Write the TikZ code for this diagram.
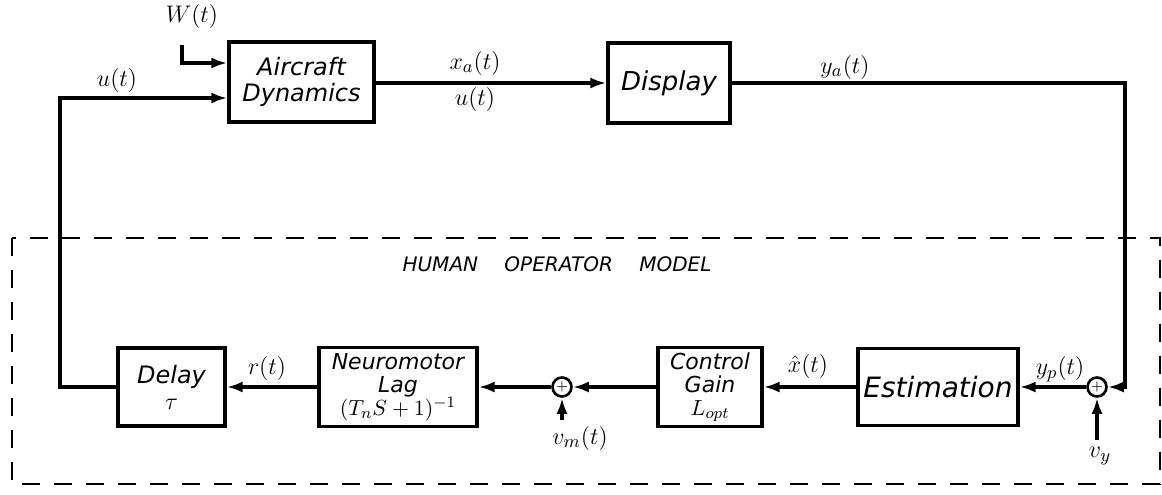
\documentclass[tikz,border=0pt]{standalone}
\usepackage{fontspec}
\setsansfont{DejaVu Sans}
\usetikzlibrary{arrows.meta}
\begin{document}
\begin{tikzpicture}[x=0.5pt,y=-0.5pt,
  line width=1.6pt,
  blk/.style={draw,line width=1.6pt,rectangle,align=center,inner sep=1pt,font=\sffamily\itshape\fontsize{12}{13}\selectfont},
  sumj/.style={draw,line width=1.3pt,circle,minimum size=9.5pt,inner sep=0pt},
  arr/.style={-{Latex[length=8pt,width=5.5pt]}},
  lbl/.style={font=\fontsize{13}{14}\selectfont}]
\useasboundingbox (0,0) rectangle (1162,494);
% top blocks
\node[blk,minimum width=72.5pt,minimum height=40pt] (ad) at (301.5,82) {Aircraft\\Dynamics};
\node[blk,minimum width=61pt,minimum height=40pt,font=\sffamily\itshape\fontsize{13}{14}\selectfont] (disp) at (669,83) {Display};
% bottom blocks
\node[blk,minimum width=53.5pt,minimum height=39pt] (delay) at (171.5,387) {Delay\\$\tau$};
\node[blk,minimum width=79pt,minimum height=39.5pt,font=\sffamily\itshape\fontsize{11}{11.5}\selectfont] (neuro) at (398,387) {Neuromotor\\Lag\\$(T_n S+1)^{-1}$};
\node[sumj] (s2) at (562,387) {\scriptsize$+$};
\node[blk,minimum width=52pt,minimum height=39.5pt,font=\sffamily\itshape\fontsize{11}{11.5}\selectfont] (ctrl) at (710,387) {Control\\Gain\\$L_{opt}$};
\node[blk,minimum width=80pt,minimum height=38.5pt,font=\sffamily\itshape\fontsize{14}{15}\selectfont] (est) at (938,387) {Estimation};
\node[sumj] (s1) at (1097,387) {\scriptsize$+$};
% coordinates
\coordinate (wstart) at (182,45);
\coordinate (wcorner) at (182,63);
\coordinate (ucorner) at (60,98);
\coordinate (lcorner) at (60,387);
\coordinate (rc1) at (1125,83);
\coordinate (rc2) at (1125,387);
\coordinate (vyst) at (1097,440);
\coordinate (vmst) at (562,420);
% connectors
\draw[arr] (wstart) -- (wcorner) -- (ad.west |- wcorner);
\draw[arr] (delay.west) -- (lcorner) -- (ucorner) -- (ad.west |- ucorner);
\draw[arr] (ad.east |- disp.west) -- (disp.west);
\draw[arr] (disp.east) -- (rc1) -- (rc2) -- (s1.east);
\draw[arr] (vyst) -- (s1.south);
\draw[arr] (s1.west) -- (est.east);
\draw[arr] (est.west) -- (ctrl.east);
\draw[arr] (ctrl.west) -- (s2.east);
\draw[arr] (vmst) -- (s2.south);
\draw[arr] (s2.west) -- (neuro.east);
\draw[arr] (neuro.west) -- (delay.east);
% labels
\node[lbl] (lw) at (192,16) {$W(t)$};
\node[lbl] (lu) at (117,80) {$u(t)$};
\node[lbl] (lxa) at (475,63) {$x_a(t)$};
\node[lbl] (lua) at (475,99) {$u(t)$};
\node[lbl] (lya) at (845,67) {$y_a(t)$};
\node[lbl] (lyp) at (1060,369) {$y_p(t)$};
\node[lbl] (lxh) at (808,366) {$\hat{x}(t)$};
\node[lbl] (lr) at (267,368) {$r(t)$};
\node[lbl] (lvm) at (580,438) {$v_m(t)$};
\node[lbl] (lvy) at (1100,456) {$v_y$};
% human operator model
\draw[dashed,line width=1.3pt,dash pattern=on 9pt off 7pt] (12,238) rectangle (1160,484);
\node[font=\sffamily\itshape\fontsize{10}{11}\selectfont] (hom) at (557,264) {HUMAN\quad\ OPERATOR\quad\ MODEL};
\end{tikzpicture}
\end{document}
